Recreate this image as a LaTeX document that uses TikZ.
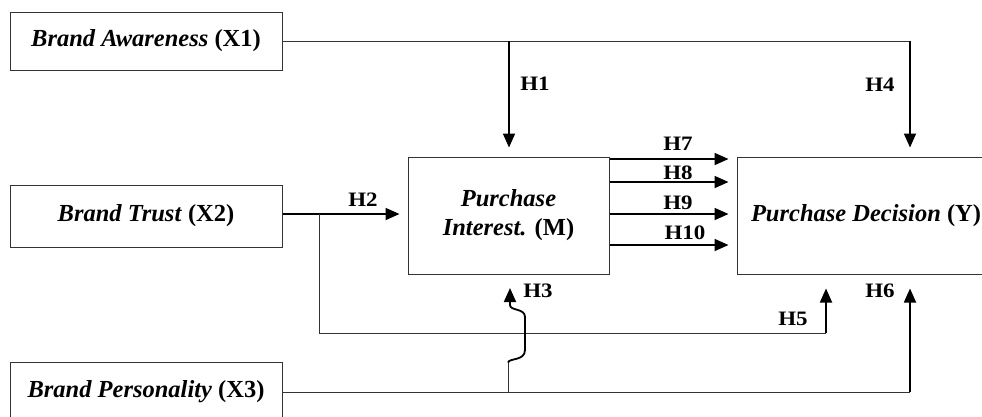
\documentclass[tikz,border=0pt]{standalone}
\usepackage{fontspec}
\setmainfont{Liberation Serif}
\usetikzlibrary{arrows.meta}
\tikzset{
  box/.style={draw=black!80, line width=1pt, inner sep=0pt, align=center,
    font=\fontsize{24.5}{29}\selectfont\bfseries},
  thinline/.style={draw=black!80, line width=0.9pt},
  thickline/.style={draw=black, line width=1.8pt},
  arr/.style={thickline, -{Triangle[length=14pt,width=12pt]}},
  hlab/.style={font=\fontsize{20.5}{24}\selectfont\bfseries, inner sep=0pt, xscale=1.12, transform shape}
}
\begin{document}
\begin{tikzpicture}[x=1pt,y=-1pt]
\useasboundingbox (0,0) rectangle (982,416);
\clip (0,0) rectangle (982,416);
% boxes
\node[box, minimum width=272pt, minimum height=58pt] (x1) at (146,41) {\textit{Brand Awareness} (X1)};
\node[box, minimum width=272pt, minimum height=62pt] (x2) at (146,216) {\textit{Brand Trust} (X2)};
\node[box, minimum width=272pt, minimum height=60pt] (x3) at (146,392) {\textit{Brand Personality} (X3)};
\node[box, minimum width=201pt, minimum height=117pt] (m) at (508.5,215.5) {\textit{Purchase}\\\textit{Interest.} (M)};
\node[box, minimum width=258pt, minimum height=117pt] (y) at (866,215.5) {\textit{Purchase Decision} (Y)};
% coordinates
\coordinate (a1) at (509,41);
\coordinate (a4) at (910,41);
\coordinate (b2) at (319,214);
\coordinate (b5) at (319,333);
\coordinate (c5) at (826,333);
\coordinate (d6) at (910,392);
\coordinate (d3) at (508,392);
% X1 paths
\draw[thinline] (x1.east) -- (a4);
\draw[arr, shorten >=9pt] (a1) -- (a1 |- m.north);
\draw[arr, shorten >=9pt] (a4) -- (a4 |- y.north);
% X2 paths
\draw[arr, shorten >=8pt] (x2.east |- b2) -- (m.west |- b2);
\draw[thinline] (b2) -- (b5) -- (c5);
\draw[arr, shorten >=14pt] (c5) -- (c5 |- y.south);
% X3 paths
\draw[thinline] (x3.east |- d6) -- (d6);
\draw[arr, shorten >=14pt] (d6) -- (d6 |- y.south);
\draw[thinline] (d3) -- (508,362);
\draw[arr] (508,362.5) .. controls (509,358) and (525,361) .. (525,350) -- (525,317)
   .. controls (525,308) and (510,311) .. (510,305) -- (510,288);
% M -> Y
\foreach \yy/\nm in {159/p7,182/p8,214/p9,245/p10}{
  \draw[arr, shorten >=8pt] (m.east |- 0,\yy) -- (y.west |- 0,\yy);
}
% labels
\node[hlab] (h1) at (535,84) {H1};
\node[hlab] (h2) at (363,200) {H2};
\node[hlab] (h3) at (538,291) {H3};
\node[hlab] (h4) at (880,85) {H4};
\node[hlab] (h5) at (793,319) {H5};
\node[hlab] (h6) at (880,291) {H6};
\node[hlab] (h7) at (678,144) {H7};
\node[hlab] (h8) at (678,173) {H8};
\node[hlab] (h9) at (678,203) {H9};
\node[hlab] (h10) at (685,233) {H10};
\end{tikzpicture}
\end{document}
